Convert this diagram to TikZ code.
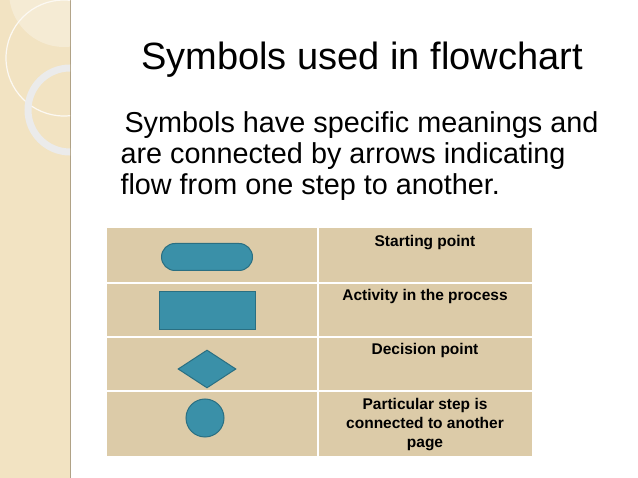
\documentclass[tikz,border=0pt]{standalone}
\usepackage{fontspec}
\setmainfont{Liberation Sans}
\usetikzlibrary{shapes.geometric}
\definecolor{strip}{HTML}{F2E3C2}
\definecolor{cellc}{HTML}{DCCBA8}
\definecolor{shp}{HTML}{3A90A8}
\definecolor{shpd}{HTML}{2A6F82}
\tikzset{sym/.style={fill=shp,draw=shpd,line width=1pt},
 lbl/.style={font=\bfseries\fontsize{15.5}{19}\selectfont,align=center,anchor=north}}
\begin{document}
\begin{tikzpicture}[x=1pt,y=-1pt]
\useasboundingbox (0,0) rectangle (638,478);
\fill[white] (0,0) rectangle (638,478);
\fill[strip] (0,0) rectangle (70,478);
\draw[cellc!80!black,line width=0.8pt] (70,0) -- (70,478);
\begin{scope}
\clip (0,0) rectangle (70,478);
\fill[white,opacity=0.3] (64,-8) circle (55);
\draw[white!80!strip,line width=1.2pt] (64,58) circle (58);
\draw[black!8,line width=7pt] (70,110) circle (42);
\end{scope}
\node[font=\fontsize{38}{44}\selectfont] (title) at (362,60) {Symbols used in flowchart};
\node[font=\fontsize{28.8}{31}\selectfont,align=left,anchor=north west] (para) at (117,108)
 {\hspace*{4pt}Symbols have specific meanings and\\are connected by arrows indicating\\flow from one step to another.};
\fill[cellc] (107,228) rectangle (532,456);
\foreach \y in {283,337,391} \draw[white,line width=2pt] (107,\y) -- (532,\y);
\draw[white,line width=1.2pt] (318,228) -- (318,456);
\node[sym,rounded corners=13.5pt,minimum width=91pt,minimum height=27pt] (s1) at (207,257) {};
\node[sym,minimum width=96pt,minimum height=38pt] (s2) at (207,311) {};
\node[sym,diamond,minimum width=58pt,minimum height=38pt,inner sep=0pt] (s3) at (207,369) {};
\node[sym,circle,minimum size=38pt,inner sep=0pt] (s4) at (205,418) {};
\node[lbl] (t1) at (425,232) {Starting point};
\node[lbl] (t2) at (425,286) {Activity in the process};
\node[lbl] (t3) at (425,340) {Decision point};
\node[lbl] (t4) at (425,395) {Particular step is\\connected to another\\page};
\end{tikzpicture}
\end{document}
